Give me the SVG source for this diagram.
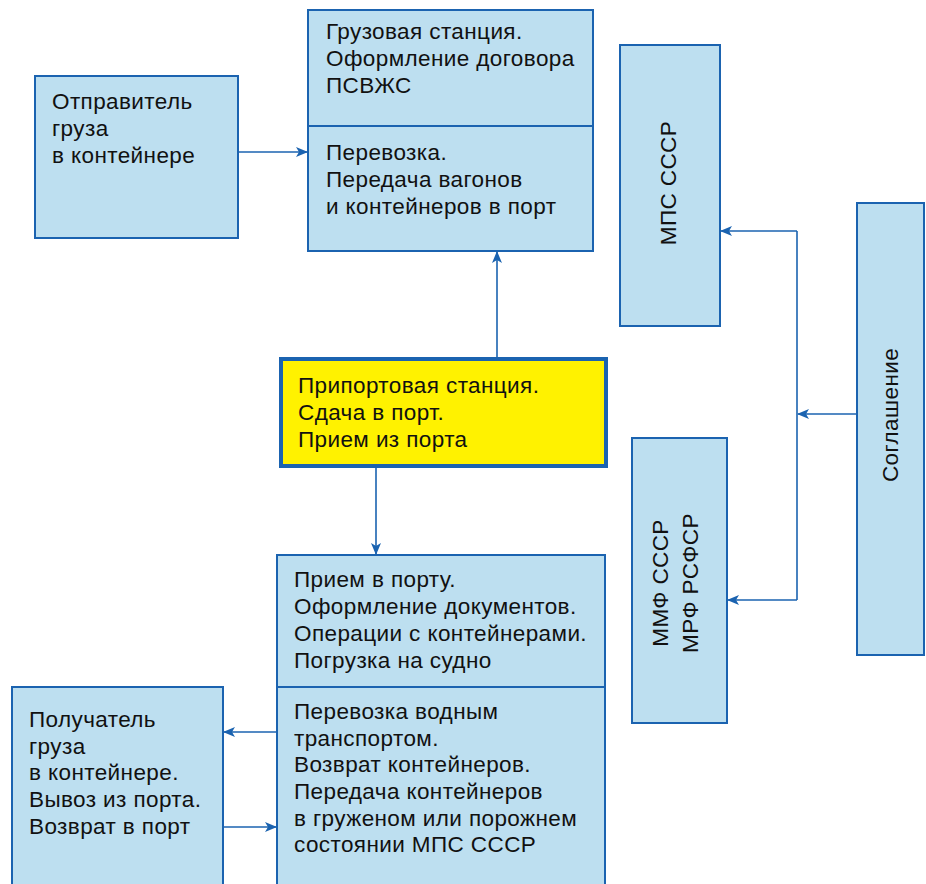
<svg xmlns="http://www.w3.org/2000/svg" width="926" height="884" viewBox="0 0 926 884">
<defs>
<style>
.box{fill:#bddff0;stroke:#1b63b0;stroke-width:2}
.yel{fill:#fff200;stroke:#1b63b0;stroke-width:4}
.div{stroke:#1b63b0;stroke-width:2;fill:none}
.t{font-family:"Liberation Sans",Arial,sans-serif;font-size:22.5px;letter-spacing:0.4px;fill:#111}
.c{stroke:#1b63b0;stroke-width:1.6;fill:none;marker-end:url(#ah)}
.l{stroke:#1b63b0;stroke-width:1.6;fill:none}
</style>
<marker id="ah" viewBox="0 0 12 10" refX="11" refY="5" markerWidth="12" markerHeight="10" markerUnits="userSpaceOnUse" orient="auto">
<path d="M0,0 L12,5 L0,10 L3,5 Z" fill="#1b63b0"/>
</marker>
</defs>
<rect width="926" height="884" fill="#fff"/>
<g id="connectors">
<path class="c" d="M238,152 H307"/>
<path class="c" d="M497,357 V252"/>
<path class="c" d="M376,468 V554"/>
<path class="l" d="M797,231 V600"/>
<path class="c" d="M857,414 H798"/>
<path class="c" d="M797,231 H721"/>
<path class="c" d="M797,600 H728"/>
<path class="c" d="M277,732 H224"/>
<path class="c" d="M223,827 H276"/>
</g>
<g id="sender">
<rect class="box" x="35" y="76" width="203" height="162"/>
<text class="t" x="52" y="109">Отправитель</text>
<text class="t" x="52" y="136">груза</text>
<text class="t" x="52" y="163">в контейнере</text>
</g>
<g id="station">
<rect class="box" x="308" y="10" width="285" height="241"/>
<path class="div" d="M308,126 H593"/>
<text class="t" x="326" y="39">Грузовая станция.</text>
<text class="t" x="326" y="66">Оформление договора</text>
<text class="t" x="326" y="93">ПСВЖС</text>
<text class="t" x="326" y="160">Перевозка.</text>
<text class="t" x="326" y="187">Передача вагонов</text>
<text class="t" x="326" y="214">и контейнеров в порт</text>
</g>
<g id="mps">
<rect class="box" x="620" y="45" width="100" height="281"/>
<text class="t" transform="translate(668,183) rotate(-90)" x="0" y="8" text-anchor="middle">МПС СССР</text>
</g>
<g id="agreement">
<rect class="box" x="857" y="203" width="67" height="452"/>
<text class="t" transform="translate(890,415) rotate(-90)" x="0" y="8" text-anchor="middle">Соглашение</text>
</g>
<g id="mmf">
<rect class="box" x="632" y="438" width="95" height="285"/>
<text class="t" transform="translate(660,583) rotate(-90)" x="0" y="8" text-anchor="middle">ММФ СССР</text>
<text class="t" transform="translate(690,583) rotate(-90)" x="0" y="8" text-anchor="middle">МРФ РСФСР</text>
</g>
<g id="portstation">
<rect class="yel" x="281" y="359" width="325" height="107"/>
<text class="t" x="298" y="393">Припортовая станция.</text>
<text class="t" x="298" y="420">Сдача в порт.</text>
<text class="t" x="298" y="447">Прием из порта</text>
</g>
<g id="port">
<rect class="box" x="277" y="555" width="328" height="340"/>
<path class="div" d="M277,687 H605"/>
<text class="t" x="294" y="587">Прием в порту.</text>
<text class="t" x="294" y="614">Оформление документов.</text>
<text class="t" x="294" y="641">Операции с контейнерами.</text>
<text class="t" x="294" y="668">Погрузка на судно</text>
<text class="t" x="294" y="719">Перевозка водным</text>
<text class="t" x="294" y="746">транспортом.</text>
<text class="t" x="294" y="772">Возврат контейнеров.</text>
<text class="t" x="294" y="799">Передача контейнеров</text>
<text class="t" x="294" y="826">в груженом или порожнем</text>
<text class="t" x="294" y="852">состоянии МПС СССР</text>
</g>
<g id="receiver">
<rect class="box" x="12" y="687" width="211" height="210"/>
<text class="t" x="29" y="727">Получатель</text>
<text class="t" x="29" y="754">груза</text>
<text class="t" x="29" y="780">в контейнере.</text>
<text class="t" x="29" y="807">Вывоз из порта.</text>
<text class="t" x="29" y="834">Возврат в порт</text>
</g>
</svg>
